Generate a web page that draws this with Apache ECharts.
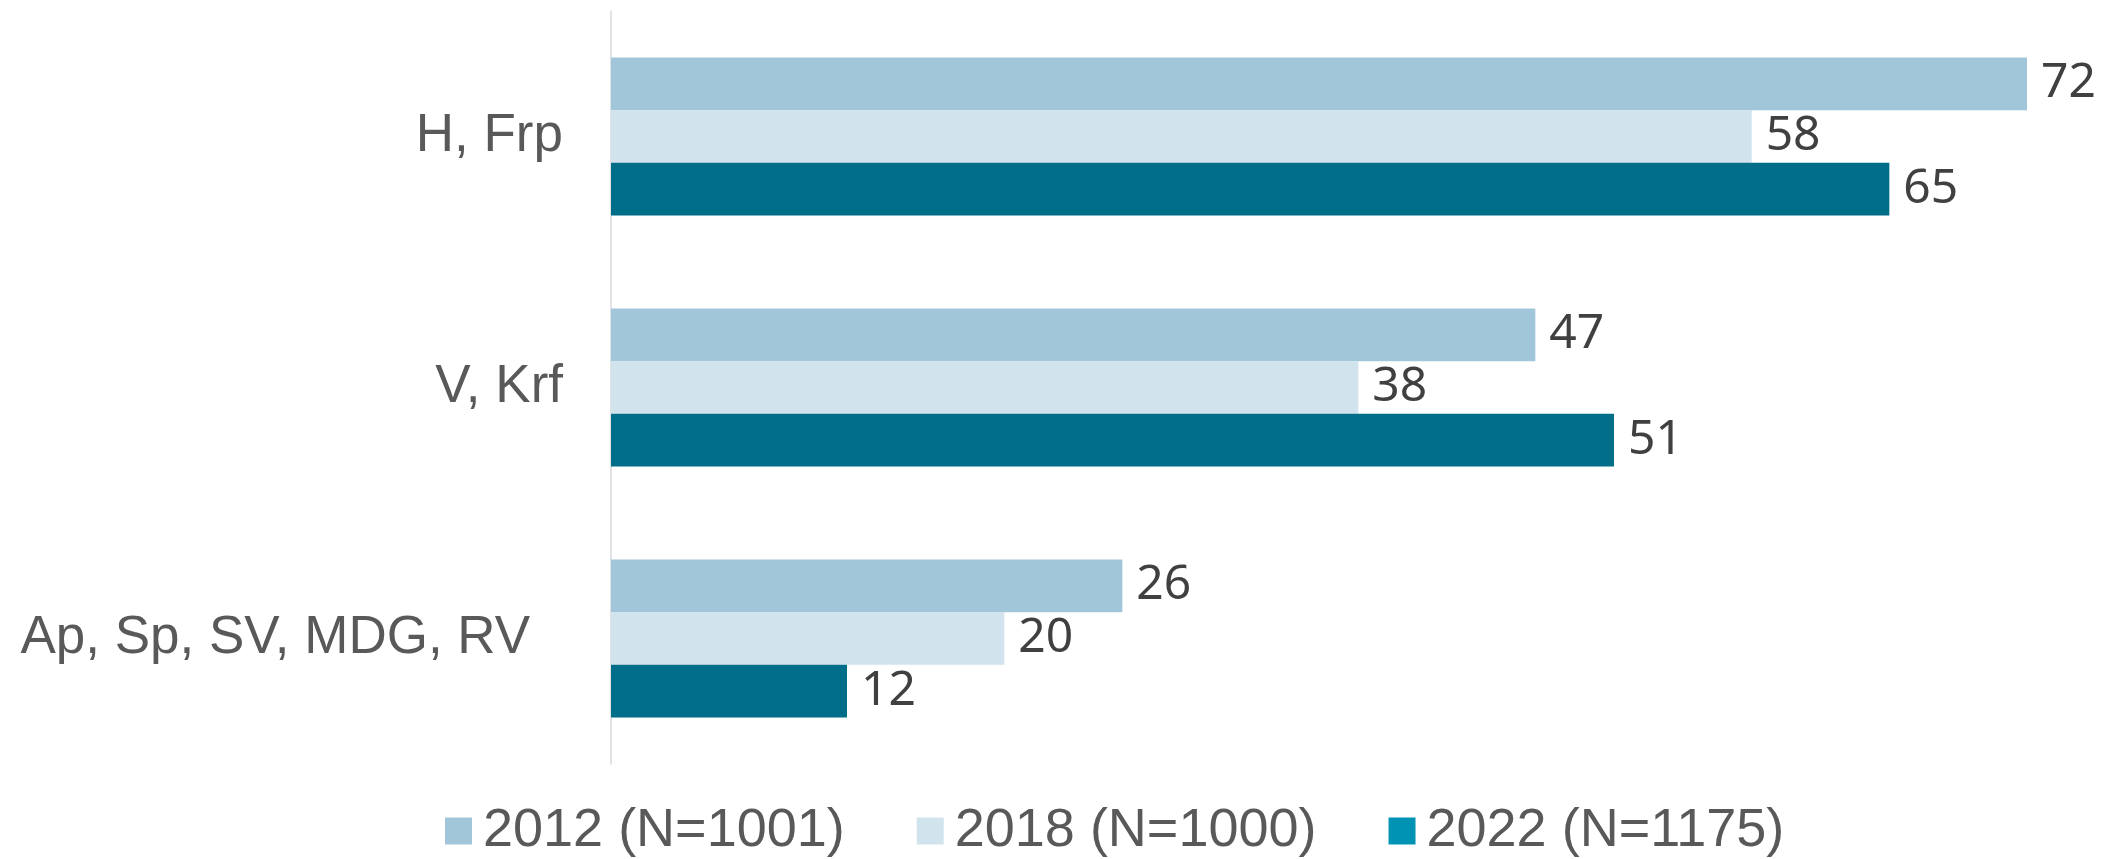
<!DOCTYPE html>
<html>
<head>
<meta charset="utf-8">
<script src="https://cdn.jsdelivr.net/npm/echarts@6/dist/echarts.min.js"></script>
<style>
  html, body { margin: 0; padding: 0; background: #fff; }
  #chart { width: 2113px; height: 859px; }
</style>
</head>
<body>
<div id="chart"></div>
<script>
// data
var categories = ['H, Frp', 'V, Krf', 'Ap, Sp, SV, MDG, RV'];
var seriesNames = ['2012 (N=1001)', '2018 (N=1000)', '2022 (N=1175)'];
var values2012 = [72, 47, 26];
var values2018 = [58, 38, 20];
var values2022 = [65, 51, 12];

var barColors = ['#a2c6d9', '#d1e3ed', '#006e88'];
var legendColors = ['#a2c6d9', '#d1e3ed', '#0093b4'];

var myChart = echarts.init(document.getElementById('chart'));

function makeSeries(name, data, color) {
  return {
    name: name,
    type: 'bar',
    data: data,
    barGap: '0%',
    barCategoryGap: '37%',
    itemStyle: { color: color },
    label: {
      show: true,
      position: 'right',
      distance: 14,
      fontFamily: 'Noto Sans',
      fontSize: 48,
      color: '#404040'
    }
  };
}

var option = {
  animation: false,
  grid: { left: 611, right: 27, top: 11, bottom: 95 },
  legend: {
    left: 440,
    top: 799,
    icon: 'rect',
    itemWidth: 27,
    itemHeight: 27,
    itemGap: 72,
    textStyle: {
      fontFamily: 'Liberation Sans',
      fontSize: 54,
      color: '#595959',
      padding: [0, 0, 0, 6]
    },
    data: seriesNames.map(function (n, i) {
      return { name: n, itemStyle: { color: legendColors[i] } };
    })
  },
  xAxis: {
    type: 'value',
    min: 0,
    max: 75,
    show: false,
    splitLine: { show: false }
  },
  yAxis: {
    type: 'category',
    inverse: true,
    data: categories.map(function (c, i) {
      if (i === 2) return { value: c, textStyle: { padding: [0, 33, 0, 0] } };
      return c;
    }),
    axisLine: { lineStyle: { color: '#d9d9d9', width: 1.5 } },
    axisTick: { show: false },
    axisLabel: {
      margin: 48,
      fontFamily: 'Liberation Sans',
      fontSize: 53,
      color: '#595959'
    }
  },
  series: [
    makeSeries(seriesNames[0], values2012, barColors[0]),
    makeSeries(seriesNames[1], values2018, barColors[1]),
    makeSeries(seriesNames[2], values2022, barColors[2])
  ]
};

myChart.setOption(option);
</script>
</body>
</html>
